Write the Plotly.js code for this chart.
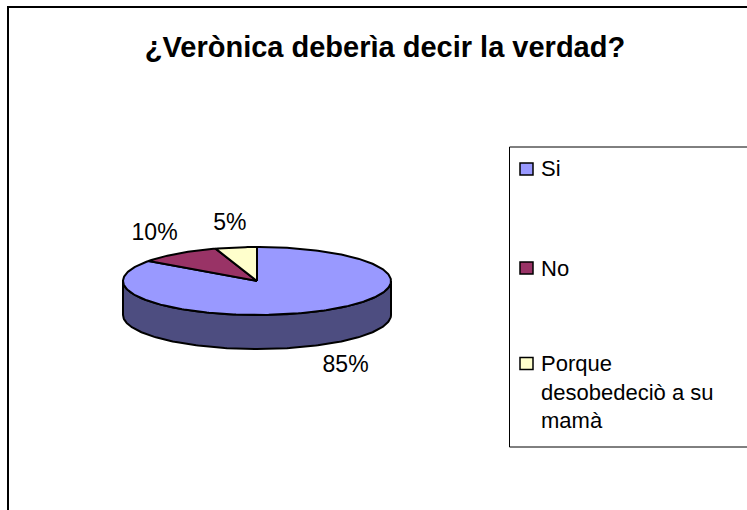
<!DOCTYPE html>
<html>
<head>
<meta charset="utf-8">
<script src="https://cdn.plot.ly/plotly-3.0.1.min.js"></script>
<style>html,body{margin:0;padding:0;background:#fff;}#chart{width:747px;height:510px;}</style>
</head>
<body>
<div id="chart"></div>
<script>
// ---- data ----
const categories = ['Si', 'No', 'Porque desobedeciò a su mamà'];
const legendLines = [['Si'], ['No'], ['Porque', 'desobedeciò a su', 'mamà']];
const values = [85, 10, 5];
const percentLabels = ['85%', '10%', '5%'];
const topColors = ['#9999FF', '#993366', '#FFFFCC'];
const sideColors = ['#4D4D80', '#4D1A33', '#808066'];

// ---- geometry (units: pie radius = 1) ----
const W = 747, H = 510;
const CX = 257, CY = 281, R = 134;      // pixel centre and radius of the pie
const TILT = 34 / 134;                  // vertical squash of the top face
const DEPTH = 34 / 134;                 // thickness of the pie
const FONT = 'Liberation Sans, Arial, sans-serif';

function pt(deg, r, dz) {
  const t = deg * Math.PI / 180;
  return [r * Math.sin(t), r * TILT * Math.cos(t) - (dz || 0)];
}
function arc(a, b, r, dz) {
  const xs = [], ys = [];
  const n = Math.max(2, Math.ceil(Math.abs(b - a)));
  for (let i = 0; i <= n; i++) {
    const p = pt(a + (b - a) * i / n, r, dz);
    xs.push(p[0]); ys.push(p[1]);
  }
  return [xs, ys];
}

const total = values.reduce((s, v) => s + v, 0);
const slices = [];
let start = 0;
values.forEach((v, i) => {
  const span = v / total * 360;
  slices.push({a: start, b: start + span, i});
  start += span;
});

const traces = [];
// side walls (front half: 90..270 degrees)
slices.forEach(s => {
  const a = Math.max(s.a, 90), b = Math.min(s.b, 270);
  if (b <= a) return;
  const top = arc(a, b, 1, 0);
  const bot = arc(b, a, 1, DEPTH);
  traces.push({
    type: 'scatter', mode: 'lines', fill: 'toself', fillcolor: sideColors[s.i],
    x: top[0].concat(bot[0], [top[0][0]]), y: top[1].concat(bot[1], [top[1][0]]),
    line: {color: '#000', width: 2}, hoverinfo: 'skip', showlegend: false
  });
});
// top faces
slices.forEach(s => {
  const t = arc(s.a, s.b, 1, 0);
  traces.push({
    type: 'scatter', mode: 'lines', fill: 'toself', fillcolor: topColors[s.i],
    x: [0].concat(t[0], [0]), y: [0].concat(t[1], [0]),
    line: {color: '#000', width: 2}, hoverinfo: 'skip', showlegend: false,
    name: categories[s.i]
  });
});
// percentage labels
const lx = [], ly = [];
slices.forEach(s => {
  const m = (s.a + s.b) / 2 * Math.PI / 180;
  const front = Math.cos(m) < 0;
  lx.push(1.3 * Math.sin(m) * (front ? 1.12 : 1));
  ly.push(1.7 * TILT * Math.cos(m) - (front ? DEPTH : 0));
});
traces.push({
  type: 'scatter', mode: 'text', x: lx, y: ly, text: percentLabels,
  textposition: 'middle center', textfont: {family: FONT, size: 23, color: '#000'},
  hoverinfo: 'skip', showlegend: false
});

// ---- legend (drawn as box + swatches + text) ----
const shapes = [];
const annotations = [];
// outer chart border
shapes.push({type: 'rect', xref: 'paper', yref: 'paper', x0: 8 / W, x1: 1.02, y0: -0.02, y1: 1 - 7 / H,
  line: {color: '#000', width: 2}, fillcolor: 'rgba(0,0,0,0)'});
// legend box
shapes.push({type: 'rect', xref: 'paper', yref: 'paper', x0: 509.5 / W, x1: 1.02, y0: 1 - 447 / H, y1: 1 - 147 / H,
  line: {color: '#000', width: 1}, fillcolor: 'rgba(0,0,0,0)'});
const LFS = 22;                       // legend font size
const entryY = [169, 268, 392];       // vertical centre of each legend entry (px)
categories.forEach((c, i) => {
  const nl = legendLines[i].length;
  const firstY = entryY[i] - (nl - 1) * LFS * 1.3 / 2;
  shapes.push({type: 'rect', xref: 'paper', yref: 'paper',
    x0: 520 / W, x1: 533 / W, y0: 1 - (firstY + 6) / H, y1: 1 - (firstY - 6) / H,
    line: {color: '#000', width: 1.5}, fillcolor: topColors[i]});
  annotations.push({xref: 'paper', yref: 'paper', x: 539 / W, y: 1 - entryY[i] / H,
    xanchor: 'left', yanchor: 'middle', align: 'left', text: legendLines[i].join('<br>'), showarrow: false,
    font: {family: FONT, size: LFS, color: '#000'}});
});

const layout = {
  width: W, height: H,
  margin: {l: 0, r: 0, t: 0, b: 0},
  paper_bgcolor: '#fff', plot_bgcolor: '#fff',
  showlegend: false,
  title: {text: '<b>¿Verònica deberìa decir la verdad?</b>', font: {family: FONT, size: 29, color: '#000'},
    x: 385 / W, xanchor: 'center', y: 1 - 47 / H, yanchor: 'middle', xref: 'paper', yref: 'paper'},
  xaxis: {range: [-CX / R, (W - CX) / R], visible: false, fixedrange: true},
  yaxis: {range: [(CY - H) / R, CY / R], visible: false, fixedrange: true},
  shapes: shapes,
  annotations: annotations
};
Plotly.newPlot('chart', traces, layout, {staticPlot: true, displayModeBar: false});
</script>
</body>
</html>
